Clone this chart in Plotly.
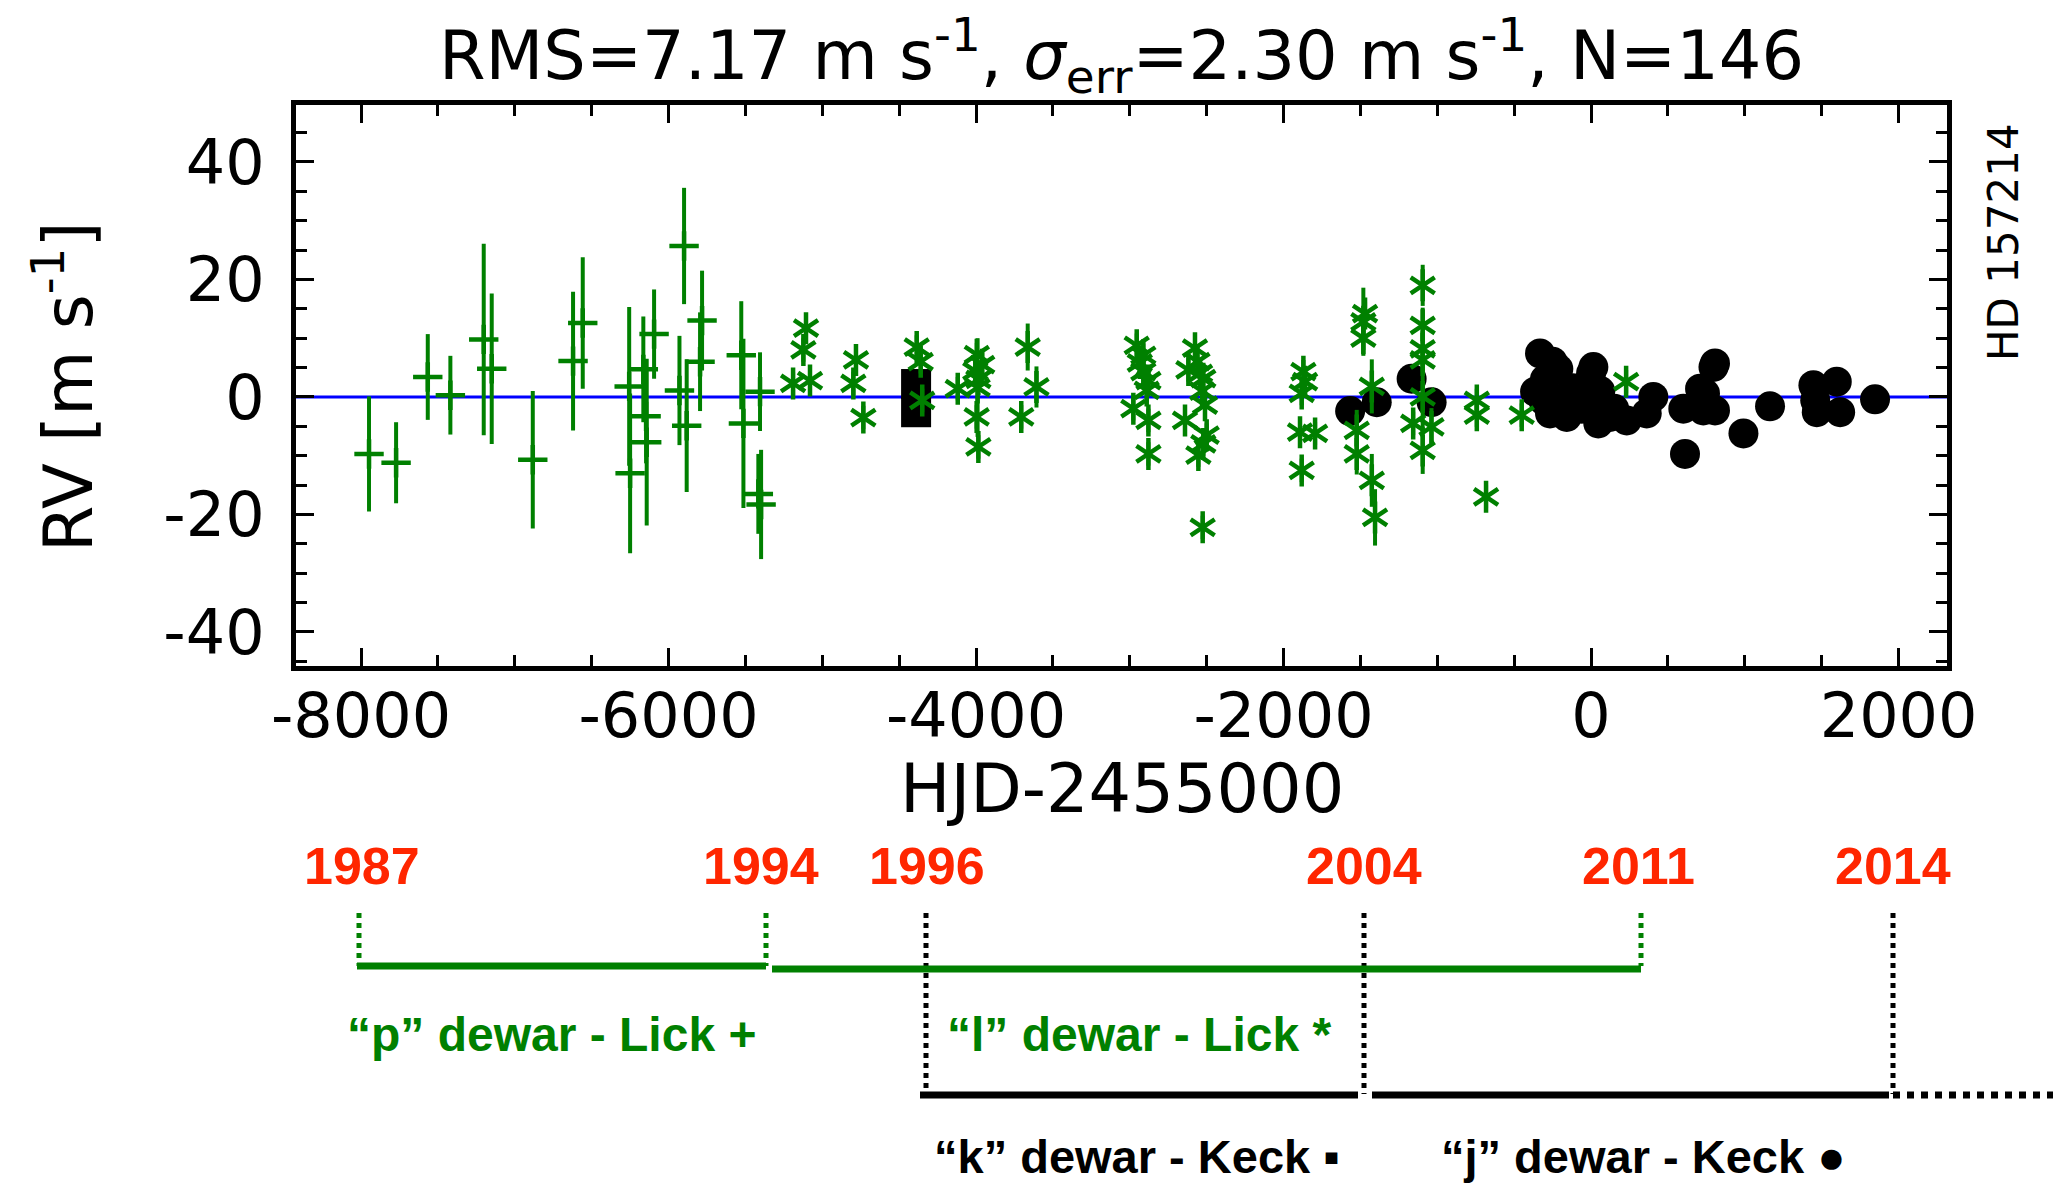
import plotly.graph_objects as go

# ---------------- data ----------------
# "p" dewar - Lick (plus symbols with error bars)
p_hjd = [-7948, -7772, -7566, -7419, -7202, -7150, -6883, -6621, -6558, -6256, -6250,
         -6164, -6146, -6142, -6094, -5929, -5899, -5882, -5795, -5782, -5527, -5513,
         -5405, -5416, -5398]
p_rv = [-9.7, -11.2, 3.4, 0.3, 9.8, 4.8, -10.7, 6.1, 12.6, 1.8, -13.0,
        4.7, -3.3, -7.7, 10.7, 1.1, 25.7, -4.9, 6.0, 13.0, 7.1, -4.5,
        0.9, -16.5, -18.3]
p_err = [9.8, 6.9, 7.3, 6.7, 16.3, 12.8, 11.7, 11.8, 11.2, 13.5, 13.6,
         9.0, 8.0, 14.2, 7.6, 9.3, 9.9, 11.3, 8.4, 8.5, 9.2, 14.4,
         6.7, 6.8, 9.3]

# "l" dewar - Lick (asterisks)
l_hjd = [-5106, -5123, -5190, -5080,
         -4781, -4798, -4733,
         -4386, -4360, -4350,
         -4119, -3995, -3960, -4005, -3985, -3990, -3996, -3985,
         -3664, -3607, -3706,
         -2955, -2912, -2912, -2879, -2890, -2977, -2879, -2879, -2935,
         -2576, -2619, -2543, -2522, -2511, -2641, -2500, -2522, -2554, -2526, -2560, -2530,
         -1871, -1860, -1882, -1893, -1795, -1882,
         -1470, -1481, -1481, -1426, -1524, -1524, -1426, -1405,
         -1095, -1095, -1095, -1095, -1095, -1157, -1038, -1095,
         -743, -743, -683,
         -451, 228]
l_rv = [11.7, 8.0, 2.3, 2.8,
        6.3, 2.3, -3.5,
        8.5, 6.0, -0.6,
        1.4, 7.2, 5.5, 4.4, 3.0, 1.6, -3.4, -8.5,
        8.5, 1.7, -3.4,
        8.8, 7.1, 4.3, 2.8, 1.1, -2.0, -4.0, -9.7, 5.8,
        8.3, 4.6, 4.0, 3.1, -1.4, -4.0, -6.5, -8.0, -9.9, -22.2, 6.0, 1.0,
        4.3, 2.6, 0.6, -6.0, -6.2, -12.5,
        14.2, 12.8, 10.0, 1.8, -5.7, -9.7, -14.2, -20.5,
        19.0, 12.2, 8.2, 6.3, 0.0, -4.5, -5.1, -9.1,
        -0.6, -3.1, -17.0,
        -3.1, 2.6]
l_err = [2.0, 2.0, 2.0, 2.0,
         2.0, 2.0, 2.0,
         2.0, 2.0, 2.0,
         2.0, 2.0, 2.0, 2.0, 2.0, 8.4, 2.0, 2.0,
         4.0, 3.5, 2.0,
         2.0, 2.0, 2.0, 2.0, 2.0, 2.0, 2.0, 2.0, 2.0,
         2.0, 2.0, 2.0, 2.0, 2.0, 2.0, 2.0, 2.0, 2.0, 2.0, 2.0, 2.0,
         2.0, 2.0, 2.0, 2.0, 2.0, 2.0,
         2.0, 5.8, 2.0, 4.6, 3.5, 3.5, 4.5, 4.8,
         3.5, 3.0, 3.0, 2.0, 6.0, 2.0, 3.2, 4.0,
         2.0, 2.0, 2.0,
         2.0, 2.0]

# "k" dewar - Keck (squares)
k_hjd = [-4390, -4390]
k_rv = [2.2, -2.6]

# "j" dewar - Keck (filled circles)
j_hjd = [-1567, -1394, -1167, -1037,
         -332, -213, -364, -267, -223, -310, -300, -250, -158, -120,
         15, -18, -60, 47, 37, -93, 0, 60, 124, 150,
         232, 405, 362, 611, 600, 730, 709, 796, 806, 741, 806,
         991, 1164, 1446, 1598, 1468, 1620, 1458, 1847]
j_rv = [-2.4, -0.9, 3.1, -0.9,
        7.4, 4.8, 0.9, -2.8, -0.6, -0.6, 3.0, 6.0, -3.4, 1.5,
        5.1, 2.3, -2.0, -4.5, -0.6, 0.0, 4.0, 1.0, -3.4, -2.0,
        -4.0, 0.0, -2.8, -9.7, -2.0, -2.3, 1.4, 5.1, 5.7, 0.6, -2.3,
        -6.2, -1.6, 2.0, 2.6, -2.6, -2.6, -0.6, -0.4]

x_major = [-8000, -6000, -4000, -2000, 0, 2000]
y_major = [-40, -20, 0, 20, 40]

# timeline diagram (schematic)
years = ["1987", "1994", "1996", "2004", "2011", "2014"]
year_colors = ["green", "green", "black", "black", "green", "black"]

GREEN = "rgb(0,128,0)"
RED = "rgb(255,38,0)"
FONT = "DejaVu Sans, Verdana, sans-serif"
BFONT = "Liberation Sans, Arial, Helvetica, sans-serif"

# ---------------- figure ----------------
W, H = 2053, 1186
L, R, T, B = 296, 106, 105, 520
PW, PH = W - L - R, H - T - B


def px(x):
    return (x - L) / PW


def py(y):
    return (H - B - y) / PH


fig = go.Figure()

fig.add_trace(go.Scatter(
    x=p_hjd, y=p_rv, mode="markers",
    marker=dict(symbol="cross-thin-open", size=21, color=GREEN,
                line=dict(color=GREEN, width=4.5)),
    error_y=dict(type="data", array=p_err, color=GREEN, thickness=4, width=0),
))
fig.add_trace(go.Scatter(
    x=k_hjd, y=k_rv, mode="markers",
    marker=dict(symbol="square", size=30, color="black", line=dict(width=0)),
))
fig.add_trace(go.Scatter(
    x=j_hjd, y=j_rv, mode="markers",
    marker=dict(symbol="circle", size=30, color="black", line=dict(width=0)),
))
fig.add_trace(go.Scatter(
    x=l_hjd, y=l_rv, mode="markers",
    marker=dict(symbol="y-up-open", size=20, color=GREEN,
                line=dict(color=GREEN, width=4.5)),
    error_y=dict(type="data", array=l_err, color=GREEN, thickness=4, width=0),
))
fig.add_trace(go.Scatter(
    x=l_hjd, y=l_rv, mode="markers",
    marker=dict(symbol="y-down-open", size=20, color=GREEN,
                line=dict(color=GREEN, width=4.5)),
))

shapes = [dict(type="line", xref="paper", x0=0, x1=1, yref="y", y0=0, y1=0,
               line=dict(color="blue", width=3), layer="below")]

# timeline geometry (pixel positions in the page)
year_px = [362, 761, 927, 1364, 1638, 1893]
vline_px = [359, 766, 926, 1364, 1641, 1893]
vline_bottom = [966, 966, 1094, 1094, 966, 1094]
for xv, yb, c in zip(vline_px, vline_bottom, year_colors):
    shapes.append(dict(type="line", xref="paper", yref="paper",
                       x0=px(xv), x1=px(xv), y0=py(913), y1=py(yb),
                       line=dict(color=c, width=5, dash="dot")))
hsegs = [(357, 766, 966, GREEN, "solid"), (772, 1641, 969, GREEN, "solid"),
         (920, 1358, 1095, "black", "solid"), (1372, 1889, 1095, "black", "solid"),
         (1893, 2053, 1095, "black", "dot")]
for x0, x1, yy, c, d in hsegs:
    shapes.append(dict(type="line", xref="paper", yref="paper",
                       x0=px(x0), x1=px(x1), y0=py(yy), y1=py(yy),
                       line=dict(color=c, width=7, dash=d)))

ann = []
for yr, xv in zip(years, year_px):
    ann.append(dict(text="<b>" + yr + "</b>", x=px(xv), y=py(866), xref="paper", yref="paper",
                    showarrow=False, xanchor="center", yanchor="middle",
                    font=dict(family=BFONT, size=52, color=RED)))
labels = [("\u201cp\u201d dewar - Lick +", 551, 1034, GREEN, 48),
          ("\u201cl\u201d dewar - Lick *", 1139, 1034, GREEN, 48),
          ("\u201ck\u201d dewar - Keck \u25aa", 1137, 1156, "black", 47),
          ("\u201cj\u201d dewar - Keck \u25cf", 1643, 1156, "black", 47)]
for t, xv, yv, c, fs in labels:
    ann.append(dict(text="<b>" + t + "</b>", x=px(xv), y=py(yv), xref="paper", yref="paper",
                    showarrow=False, xanchor="center", yanchor="middle",
                    font=dict(family=BFONT, size=fs, color=c)))

ann.append(dict(text="RMS=7.17 m s<sup>-1</sup>, <i>\u03c3</i><sub>err</sub>=2.30 m s<sup>-1</sup>, N=146",
                x=0.5, y=py(56), xref="paper", yref="paper", showarrow=False,
                xanchor="center", yanchor="middle",
                font=dict(family=FONT, size=67, color="black")))
ann.append(dict(text="HJD-2455000", x=px(1122), y=py(789), xref="paper", yref="paper",
                showarrow=False, xanchor="center", yanchor="middle",
                font=dict(family=FONT, size=67, color="black")))
ann.append(dict(text="RV [m s<sup>-1</sup>]", x=px(64), y=py(386), xref="paper", yref="paper",
                showarrow=False, xanchor="center", yanchor="middle", textangle=-90,
                font=dict(family=FONT, size=67, color="black")))
ann.append(dict(text="HD 157214", x=px(2003), y=py(242), xref="paper", yref="paper",
                showarrow=False, xanchor="center", yanchor="middle", textangle=-90,
                font=dict(family=FONT, size=42, color="black")))

axis_common = dict(showgrid=False, zeroline=False, showline=True, linewidth=5,
                   linecolor="black", mirror="allticks", ticks="inside",
                   ticklen=18, tickwidth=2.5, tickcolor="black",
                   tickfont=dict(family=FONT, size=62, color="black"))

fig.update_layout(
    width=W, height=H,
    margin=dict(l=L, r=R, t=T, b=B, autoexpand=False),
    paper_bgcolor="white", plot_bgcolor="white",
    showlegend=False,
    shapes=shapes, annotations=ann,
    xaxis=dict(range=[-8423, 2315], tickvals=x_major, ticktext=[str(v) for v in x_major],
               minor=dict(dtick=500, tick0=0, ticks="inside", ticklen=11, tickwidth=2.5,
                          tickcolor="black"),
               ticklabelstandoff=-8, **axis_common),
    yaxis=dict(range=[-45.8, 49.7], tickvals=y_major, ticktext=[str(v) for v in y_major],
               minor=dict(dtick=5, tick0=0, ticks="inside", ticklen=11, tickwidth=2.5,
                          tickcolor="black"),
               ticklabelstandoff=14, **axis_common),
)

fig.write_html("out.html")
